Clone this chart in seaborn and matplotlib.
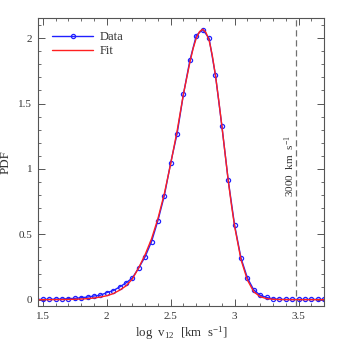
import numpy as np
import pandas as pd
import matplotlib
matplotlib.use("Agg")
import matplotlib.pyplot as plt
from matplotlib.ticker import MultipleLocator
import seaborn as sns

# ---- data ----
data_x = [1.45, 1.50, 1.55, 1.60, 1.65, 1.70, 1.75, 1.80, 1.85, 1.90, 1.95,
          2.00, 2.05, 2.10, 2.15, 2.20, 2.25, 2.30, 2.35, 2.40, 2.45, 2.50,
          2.55, 2.60, 2.65, 2.70, 2.75, 2.80, 2.85, 2.90, 2.95, 3.00, 3.05,
          3.10, 3.15, 3.20, 3.25, 3.30, 3.35, 3.40, 3.45, 3.50, 3.55, 3.60,
          3.65, 3.70]
data_y = [0.002, 0.002, 0.003, 0.004, 0.005, 0.008, 0.010, 0.015, 0.020, 0.028, 0.034,
          0.054, 0.069, 0.097, 0.128, 0.166, 0.243, 0.329, 0.444, 0.605, 0.795, 1.047,
          1.270, 1.574, 1.830, 2.020, 2.066, 2.000, 1.718, 1.330, 0.912, 0.568, 0.317,
          0.166, 0.074, 0.034, 0.017, 0.006, 0.003, 0.002, 0.002, 0.002, 0.002, 0.002,
          0.002, 0.002]

fit_x = [1.45, 1.55, 1.65, 1.70, 1.75, 1.80, 1.85, 1.90, 1.95, 2.00, 2.05,
         2.10, 2.15, 2.20, 2.25, 2.30, 2.35, 2.40, 2.45, 2.50, 2.55, 2.60,
         2.65, 2.675, 2.70, 2.725, 2.75, 2.775, 2.80, 2.825, 2.85, 2.875, 2.90,
         2.925, 2.95, 2.975, 3.00, 3.05, 3.10, 3.15, 3.20, 3.25, 3.30, 3.35,
         3.45, 3.70]
fit_y = [0.000, 0.000, 0.001, 0.002, 0.003, 0.005, 0.008, 0.013, 0.020, 0.030, 0.046,
         0.072, 0.105, 0.158, 0.245, 0.345, 0.465, 0.620, 0.810, 1.040, 1.290, 1.575,
         1.815, 1.920, 2.000, 2.050, 2.068, 2.045, 1.985, 1.870, 1.715, 1.530, 1.330,
         1.120, 0.910, 0.725, 0.560, 0.305, 0.150, 0.060, 0.023, 0.008, 0.003, 0.001,
         0.000, 0.000]

vline_x = np.log10(3000.0)
vline_label = "3000  km  s$^{-1}$"

df_data = pd.DataFrame({"x": data_x, "y": data_y})
df_fit = pd.DataFrame({"x": fit_x, "y": fit_y})

sns.set_style("ticks")
plt.rcParams["font.family"] = ["Liberation Serif", "DejaVu Serif"]
plt.rcParams["mathtext.fontset"] = "custom"
plt.rcParams["mathtext.rm"] = "Liberation Serif"
plt.rcParams["mathtext.it"] = "Liberation Serif"

fig = plt.figure(figsize=(3.43, 3.43), dpi=100)
ax = fig.add_axes([0.11, 0.108, 0.835, 0.839])

blue = "#2020ff"
red = "#ff2020"

sns.lineplot(data=df_data, x="x", y="y", ax=ax, color=blue, lw=1.0,
             marker="o", markersize=3.0, markerfacecolor="none",
             markeredgecolor=blue, markeredgewidth=0.9, label="Data",
             clip_on=True)
sns.lineplot(data=df_fit, x="x", y="y", ax=ax, color=red, lw=1.0, label="Fit")

ax.axvline(vline_x, color="#707070", lw=0.9, ls=(0, (5, 3)))
ax.text(vline_x - 0.045, 1.02, vline_label, rotation=90, ha="center",
        va="center", fontsize=8, color="#333333")

ax.set_xlim(1.46, 3.70)
ax.set_ylim(-0.048, 2.153)

ax.xaxis.set_major_locator(MultipleLocator(0.5))
ax.xaxis.set_minor_locator(MultipleLocator(0.1))
ax.yaxis.set_major_locator(MultipleLocator(0.5))
ax.yaxis.set_minor_locator(MultipleLocator(0.1))
ax.set_xticks([1.5, 2, 2.5, 3, 3.5])
ax.set_xticklabels(["1.5", "2", "2.5", "3", "3.5"])
ax.set_yticks([0, 0.5, 1, 1.5, 2])
ax.set_yticklabels(["0", "0.5", "1", "1.5", "2"])

ax.tick_params(which="both", direction="in", top=True, right=True,
               color="#555555", labelsize=8, labelcolor="#333333", pad=4)
ax.tick_params(which="major", length=5, width=0.7)
ax.tick_params(which="minor", length=2.5, width=0.6)
for s in ax.spines.values():
    s.set_color("#555555")
    s.set_linewidth(0.8)

ax.set_xlabel("log  v$_{12}$  [km  s$^{-1}$]", fontsize=9.3, color="#333333", labelpad=3)
ax.set_ylabel("PDF", fontsize=9.3, color="#333333", labelpad=5)

leg = ax.legend(loc="upper left", frameon=False, fontsize=9, handlelength=3.3,
                borderaxespad=0.3, handletextpad=0.5, labelspacing=0.15,
                bbox_to_anchor=(0.02, 0.985))
for t in leg.get_texts():
    t.set_color("#333333")

fig.savefig("out.png", dpi=100)
